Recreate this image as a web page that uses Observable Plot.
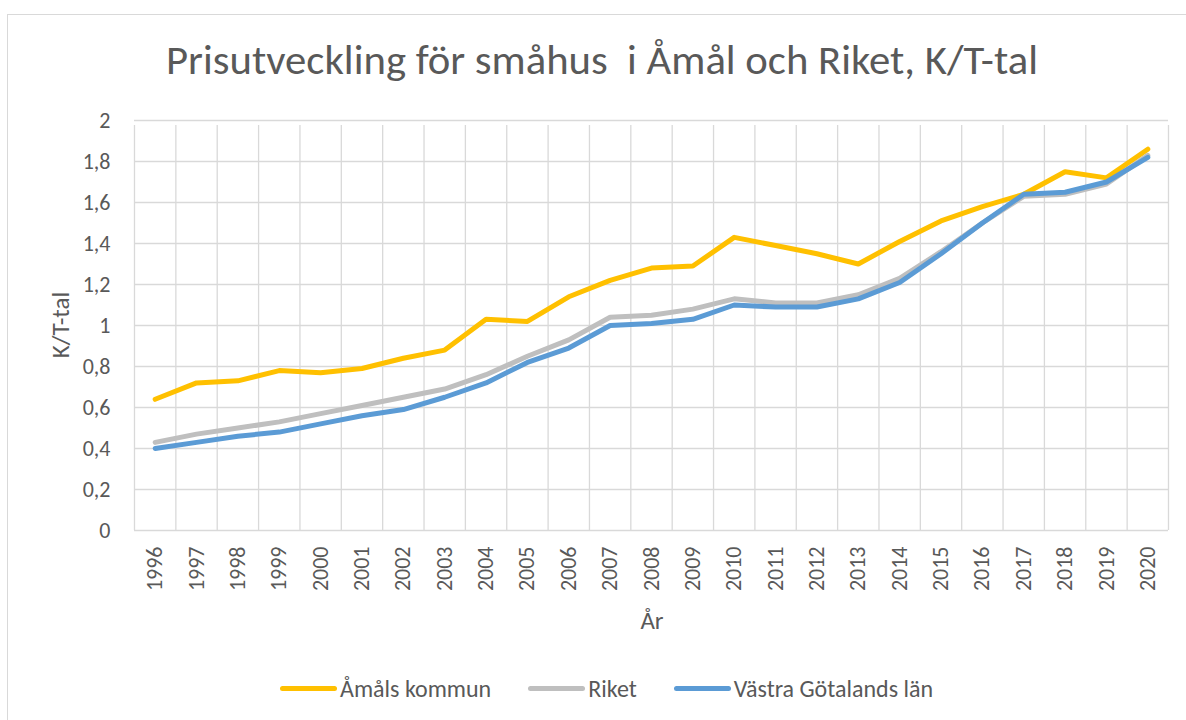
<!DOCTYPE html>
<html>
<head>
<meta charset="utf-8">
<script src="https://cdn.jsdelivr.net/npm/d3@7"></script>
<script src="https://cdn.jsdelivr.net/npm/@observablehq/plot@0.6"></script>
<style>
  html, body { margin: 0; padding: 0; background: #fff; }
  body { width: 1186px; height: 720px; overflow: hidden; font-family: Carlito, "Open Sans", sans-serif; color: #595959; }
  #wrap { position: relative; width: 1186px; height: 720px; }
  #border { position: absolute; left: 7px; top: 14px; width: 1200px; height: 720px; border: 1px solid #D9D9D9; box-sizing: border-box; }
  #title { position: absolute; top: 34px; left: 0; width: 1186px; height: 60px; }
  #title span { position: absolute; left: 166px; top: 0; white-space: pre; font-size: 41px; line-height: 52px; transform-origin: 0 0; color: #595959; }
  #chart { position: absolute; left: 0; top: 100px; }
  .axlabel { position: absolute; font-size: 25px; color: #595959; white-space: nowrap; }
  #ylab { left: 60px; top: 325px; transform: translate(-50%, -50%) rotate(-90deg); }
  #xlab { left: 652px; top: 620px; transform: translate(-50%, -50%); }
  #legend { position: absolute; left: 280px; top: 674px; display: flex; align-items: center; font-size: 24px; white-space: nowrap; }
  .item { display: flex; align-items: center; margin-right: 37px; flex-shrink: 0; }
  .sw { width: 57px; height: 5px; border-radius: 3px; margin-right: 3px; flex-shrink: 0; }
</style>
</head>
<body>
<div id="wrap">
  <div id="border"></div>
  <div id="title"><span id="ttext"></span></div>
  <div id="chart"></div>
  <div class="axlabel" id="ylab"></div>
  <div class="axlabel" id="xlab"></div>
  <div id="legend"></div>
</div>
<script>
const titleText = "Prisutveckling för småhus  i Åmål och Riket, K/T-tal";
const yLabel = "K/T-tal";
const xLabel = "År";
const years = [1996,1997,1998,1999,2000,2001,2002,2003,2004,2005,2006,2007,2008,2009,2010,2011,2012,2013,2014,2015,2016,2017,2018,2019,2020];
const seriesNames = ["Åmåls kommun", "Riket", "Västra Götalands län"];
const seriesColors = ["#FFC000", "#BFBFBF", "#5B9BD5"];
const amal  = [0.64,0.72,0.73,0.78,0.77,0.79,0.84,0.88,1.03,1.02,1.14,1.22,1.28,1.29,1.43,1.39,1.35,1.30,1.41,1.51,1.58,1.64,1.75,1.72,1.86];
const riket = [0.43,0.47,0.50,0.53,0.57,0.61,0.65,0.69,0.76,0.85,0.93,1.04,1.05,1.08,1.13,1.11,1.11,1.15,1.23,1.36,1.50,1.63,1.64,1.69,1.83];
const vgl   = [0.40,0.43,0.46,0.48,0.52,0.56,0.59,0.65,0.72,0.82,0.89,1.00,1.01,1.03,1.10,1.09,1.09,1.13,1.21,1.35,1.50,1.64,1.65,1.70,1.82];
const yTicks = [0,0.2,0.4,0.6,0.8,1,1.2,1.4,1.6,1.8,2];

const seriesValues = [amal, riket, vgl];
const data = seriesNames.flatMap((name, s) => years.map((year, i) => ({name, year, value: seriesValues[s][i]})));
// category boundaries (between years) for vertical gridlines
const bounds = years.map(y => y - 0.5).concat([years[years.length - 1] + 0.5]);
const fmt = d => d3.format(".1~f")(d).replace(".", ",");

const plot = Plot.plot({
  width: 1186,
  height: 560,
  marginTop: 20,
  marginLeft: 134,
  marginRight: 18,
  marginBottom: 130,
  style: {fontFamily: 'Carlito, "Open Sans", sans-serif', fontSize: "22px", color: "#595959", background: "transparent"},
  x: {type: "linear", domain: [bounds[0], bounds[bounds.length - 1]], ticks: years, tickFormat: d => String(d), tickRotate: -90, tickSize: 0, tickPadding: 16, label: null},
  y: {domain: [0, 2], ticks: yTicks, tickFormat: fmt, tickSize: 0, tickPadding: 24, label: null},
  color: {domain: seriesNames, range: seriesColors},
  marks: [
    Plot.ruleY(yTicks, {stroke: "#D9D9D9", strokeWidth: 1.3}),
    Plot.ruleX(bounds, {y1: 0, y2: 2, stroke: "#D9D9D9", strokeWidth: 1.3, insetBottom: -5}),
    Plot.line(data, {x: "year", y: "value", z: "name", stroke: "name", strokeWidth: 5, strokeLinejoin: "round", strokeLinecap: "round"})
  ]
});
document.getElementById("chart").appendChild(plot);

const t = document.getElementById("ttext");
t.textContent = titleText;
const w = t.getBoundingClientRect().width;
t.style.transform = `scaleX(${872 / w})`;
document.getElementById("ylab").textContent = yLabel;
document.getElementById("xlab").textContent = xLabel;

const legend = document.getElementById("legend");
seriesNames.forEach((name, i) => {
  const item = document.createElement("div");
  item.className = "item";
  const sw = document.createElement("div");
  sw.className = "sw";
  sw.style.background = seriesColors[i];
  const lab = document.createElement("span");
  lab.textContent = name;
  item.appendChild(sw);
  item.appendChild(lab);
  legend.appendChild(item);
});
</script>
</body>
</html>
